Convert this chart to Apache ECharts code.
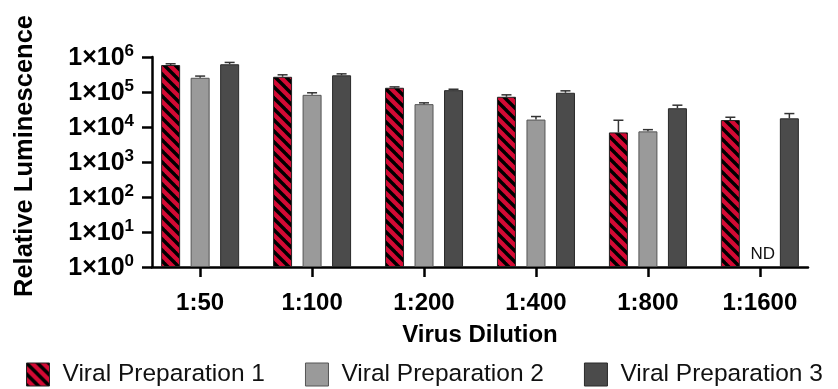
<!DOCTYPE html>
<html>
<head>
<meta charset="utf-8">
<script src="https://cdn.jsdelivr.net/npm/echarts@6/dist/echarts.min.js"></script>
<style>
html,body{margin:0;padding:0;background:#fff;}
#chart{width:838px;height:389px;}
</style>
</head>
<body>
<div id="chart"></div>
<script>
// ---- data ----
const categories = ['1:50', '1:100', '1:200', '1:400', '1:800', '1:1600'];
const seriesNames = ['Viral Preparation 1', 'Viral Preparation 2', 'Viral Preparation 3'];
const prep1 = [590000, 272000, 132000, 73000, 7000, 15800];
const prep1Err = [50000, 38000, 8000, 10000, 8600, 3200];
const prep2 = [255000, 83000, 45000, 16300, 7500, null];
const prep2Err = [30000, 12000, 4000, 3600, 900, null];
const prep3 = [620000, 300000, 113000, 95000, 34400, 17700];
const prep3Err = [80000, 30000, 7000, 13000, 7600, 6500];
const yTickExponents = [0, 1, 2, 3, 4, 5, 6];
const xAxisLabel = 'Virus Dilution';
const yAxisLabel = 'Relative Luminescence';
const ndText = 'ND';

// ---- style ----
const FONT = 'Liberation Sans, Arial, sans-serif';
const RED = '#d30a34';
const LIGHT = '#9a9a9a';
const DARK = '#4b4b4b';
const BAR_W = 19;
const GAP_PX = 10.5;

function stripePattern() {
  const s = 11;
  const c = document.createElement('canvas');
  c.width = s; c.height = s;
  const ctx = c.getContext('2d');
  ctx.fillStyle = RED;
  ctx.fillRect(0, 0, s, s);
  ctx.strokeStyle = '#000';
  ctx.lineWidth = 3.4;
  for (let k = -1; k <= 1; k++) {
    ctx.beginPath();
    ctx.moveTo(k * s - 2, -2);
    ctx.lineTo(k * s + s + 2, s + 2);
    ctx.stroke();
  }
  return c;
}

const allVals = [prep1, prep2, prep3];
const allErr = [prep1Err, prep2Err, prep3Err];
const colors = [{ image: stripePattern(), repeat: 'repeat' }, LIGHT, DARK];
const borders = ['#222', '#555', '#2a2a2a'];

const series = [];
allVals.forEach((vals, k) => {
  series.push({
    name: seriesNames[k],
    type: 'bar',
    barWidth: BAR_W,
    barGap: (GAP_PX / BAR_W * 100).toFixed(1) + '%',
    data: vals.map((v, i) => [i, v == null ? '-' : v]),
    itemStyle: { color: colors[k], borderColor: borders[k], borderWidth: 1 },
    emphasis: { disabled: true },
    z: 2
  });
});

allVals.forEach((vals, k) => {
  const offset = (k - 1) * (BAR_W + GAP_PX);
  series.push({
    type: 'custom',
    silent: true,
    z: 3,
    data: vals.map((v, i) => [i, v == null ? 0 : v, v == null ? 0 : allErr[k][i], v == null ? 1 : 0]),
    renderItem: function (params, api) {
      const i = api.value(0);
      const v = api.value(1);
      const e = api.value(2);
      const missing = api.value(3);
      if (missing) {
        const p = api.coord([i, 1]);
        return {
          type: 'text',
          style: {
            x: p[0] + offset + 3, y: p[1] - 4,
            text: ndText,
            fill: '#111',
            font: '17px ' + FONT,
            align: 'center', verticalAlign: 'bottom'
          }
        };
      }
      const b = api.coord([i, v]);
      const t = api.coord([i, v + e]);
      const x = b[0] + offset;
      const hw = 5;
      return {
        type: 'group',
        children: [
          { type: 'line', shape: { x1: x, y1: b[1], x2: x, y2: t[1] }, style: { stroke: '#333', lineWidth: 1.5 } },
          { type: 'line', shape: { x1: x - hw, y1: t[1], x2: x + hw, y2: t[1] }, style: { stroke: '#333', lineWidth: 1.5 } }
        ]
      };
    }
  });
});

const chart = echarts.init(document.getElementById('chart'), null, { renderer: 'canvas' });
chart.setOption({
  animation: false,
  backgroundColor: '#fff',
  grid: { left: 152, right: 30, top: 57, bottom: 122, containLabel: false },
  legend: {
    data: seriesNames,
    left: 26,
    top: 362,
    width: 812,
    padding: 0,
    icon: 'rect',
    itemWidth: 23,
    itemHeight: 23,
    itemGap: 40,
    selectedMode: false,
    textStyle: { fontFamily: FONT, fontSize: 24.5, color: '#111', padding: [0, 0, 0, 8] },
    itemStyle: { borderWidth: 1 }
  },
  xAxis: {
    type: 'value',
    min: -0.43,
    max: 5.43,
    name: xAxisLabel,
    nameLocation: 'middle',
    nameGap: 56,
    nameTextStyle: { fontFamily: FONT, fontSize: 24, fontWeight: 'bold', color: '#000' },
    splitLine: { show: false },
    axisLine: { show: true, onZero: false, lineStyle: { color: '#000', width: 2.5 } },
    axisTick: { show: true, inside: false, length: 10, lineStyle: { color: '#000', width: 2.5 }, customValues: categories.map((c, i) => i) },
    axisLabel: {
      customValues: categories.map((c, i) => i),
      formatter: v => categories[Math.round(v)],
      margin: 24,
      fontFamily: FONT, fontSize: 24, fontWeight: 'bold', color: '#000'
    }
  },
  yAxis: {
    type: 'log',
    logBase: 10,
    min: Math.pow(10, yTickExponents[0]),
    max: Math.pow(10, yTickExponents[yTickExponents.length - 1]),
    splitNumber: yTickExponents.length - 1,
    name: yAxisLabel,
    nameLocation: 'middle',
    nameGap: 114,
    nameTextStyle: { fontFamily: FONT, fontSize: 25.5, fontWeight: 'bold', color: '#000', padding: [0, 0, 0, 12] },
    splitLine: { show: false },
    axisLine: { show: true, onZero: false, lineStyle: { color: '#000', width: 2.5 } },
    axisTick: { show: true, inside: false, length: 10, lineStyle: { color: '#000', width: 2.5 } },
    axisLabel: {
      margin: 18,
      formatter: function (v) {
        const e = Math.round(Math.log10(v));
        return '{b|1×10}{s|' + e + '}';
      },
      rich: {
        b: { fontFamily: FONT, fontSize: 25, fontWeight: 'bold', color: '#000', verticalAlign: 'bottom', lineHeight: 28 },
        s: { fontFamily: FONT, fontSize: 17, fontWeight: 'bold', color: '#000', verticalAlign: 'top', lineHeight: 17 }
      }
    }
  },
  series: series
});
</script>
</body>
</html>
